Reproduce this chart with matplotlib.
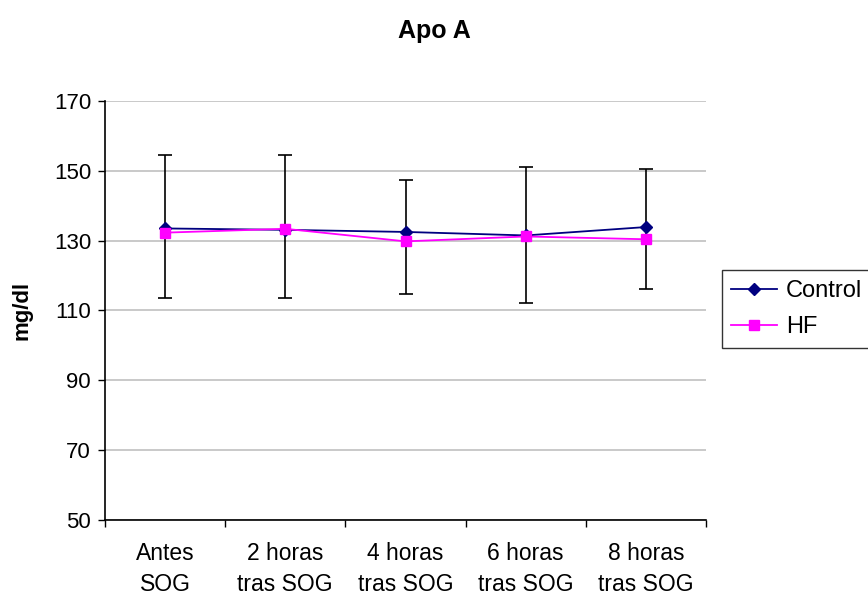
import matplotlib
matplotlib.use("Agg")
import matplotlib.pyplot as plt
import numpy as np

plt.rcParams['font.family'] = ['Liberation Sans', 'DejaVu Sans']

categories = ["Antes\nSOG", "2 horas\ntras SOG", "4 horas\ntras SOG", "6 horas\ntras SOG", "8 horas\ntras SOG"]
control = [133.5, 133.1, 132.5, 131.5, 133.9]
hf = [132.3, 133.4, 129.8, 131.2, 130.4]
err_low = [113.7, 113.7, 114.7, 112.2, 116.1]
err_high = [154.6, 154.6, 147.3, 151.2, 150.6]
yticks = [50, 70, 90, 110, 130, 150, 170]

fig = plt.figure(figsize=(8.68, 5.96), dpi=100)
ax = fig.add_axes([105/868, 1-520/596, 601/868, 419/596])

x = np.arange(len(categories))
ctrl = np.array(control)
lower = ctrl - np.array(err_low)
upper = np.array(err_high) - ctrl

ax.errorbar(x, ctrl, yerr=[lower, upper], fmt='none', ecolor='black', elinewidth=1.2,
            capsize=5, capthick=1.2, zorder=2)
ax.plot(x, control, color='#000080', marker='D', markersize=6.5, linewidth=1.3,
        label='Control', zorder=3)
ax.plot(x, hf, color='#FF00FF', marker='s', markersize=7.5, linewidth=1.3,
        label='HF', zorder=4)

ax.set_xlim(-0.5, len(categories) - 0.5)
ax.set_ylim(50, 170)
ax.set_yticks(yticks)
ax.set_yticklabels([str(v) for v in yticks], fontsize=16)
ax.yaxis.grid(True, color='#c0c0c0', linewidth=1.2)
ax.set_axisbelow(True)

ax.set_xticks(np.arange(-0.5, len(categories)), minor=False)
ax.set_xticklabels([''] * (len(categories) + 1))
ax.set_xticks(x, minor=True)
ax.set_xticklabels(categories, minor=True, fontsize=16.5, linespacing=1.45)
ax.tick_params(axis='x', which='minor', length=0, pad=16)
ax.tick_params(axis='x', which='major', length=5, direction='out', width=1)
ax.tick_params(axis='y', length=5, direction='out', width=1, pad=5)

for s in ['top', 'right']:
    ax.spines[s].set_visible(False)
for s in ['left', 'bottom']:
    ax.spines[s].set_linewidth(1.2)

ax.set_ylabel('mg/dl', fontsize=16, fontweight='bold', labelpad=8)
ax.yaxis.set_label_coords((33 - 105) / 601, 0.5)
fig.text(0.501, 1 - 31/596, 'Apo A', ha='center', va='center', fontsize=18, fontweight='bold')

leg = fig.legend(loc='center left', bbox_to_anchor=(722/868, 1 - 309/596), fontsize=17,
                 frameon=True, fancybox=False, edgecolor='black', handlelength=1.95,
                 borderpad=0.4, labelspacing=0.6, handletextpad=0.35, borderaxespad=0)
leg.get_frame().set_linewidth(1.0)

fig.savefig('out.png', dpi=100)
